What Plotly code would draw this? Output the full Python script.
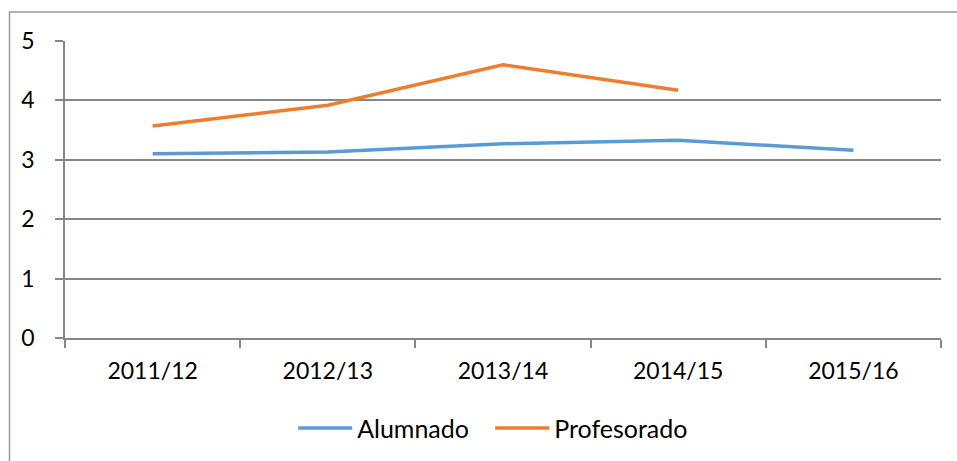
import plotly.graph_objects as go

categories = ["2011/12", "2012/13", "2013/14", "2014/15", "2015/16"]
alumnado = [3.10, 3.13, 3.27, 3.33, 3.16]
profesorado = [3.57, 3.92, 4.60, 4.17, None]
y_ticks = [0, 1, 2, 3, 4, 5]

FONT = "Lato"
GRID = "#878787"

fig = go.Figure()
fig.add_trace(go.Scatter(x=categories, y=alumnado, name="Alumnado", mode="lines",
                         line=dict(color="#5B9BD5", width=3.5)))
fig.add_trace(go.Scatter(x=categories, y=profesorado, name="Profesorado", mode="lines",
                         line=dict(color="#ED7D31", width=3.5)))

W, H = 957, 461
L, T = 65, 40.7
R = W - 940.7
B = H - 337.7
pw, ph = W - L - R, H - T - B

fig.update_layout(
    width=W, height=H,
    margin=dict(l=L, r=R, t=T, b=B, autoexpand=False),
    paper_bgcolor="white", plot_bgcolor="white",
    font=dict(family=FONT, size=23, color="black"),
    showlegend=True,
    legend=dict(orientation="h", x=(490 - L) / pw, xanchor="center",
                y=(337.7 - 428) / ph, yanchor="middle",
                font=dict(family=FONT, size=25), itemwidth=54,
                entrywidth=128, traceorder="normal"),
    xaxis=dict(type="category", range=[-0.5, 4.5], showgrid=False,
               showline=True, linecolor=GRID, linewidth=1.5,
               ticks="outside", ticklen=8, tickcolor=GRID, tickwidth=1.5,
               tickson="boundaries", ticklabelstandoff=12,
               tickfont=dict(family=FONT, size=23)),
    yaxis=dict(range=[0, 5], tickvals=y_ticks, showgrid=True, gridcolor=GRID,
               gridwidth=1.5, showline=True, linecolor=GRID, linewidth=1.5,
               ticks="outside", ticklen=8, tickcolor=GRID, tickwidth=1.5,
               zeroline=False, ticklabelstandoff=16,
               tickfont=dict(family=FONT, size=23)),
    shapes=[dict(type="rect", xref="paper", yref="paper",
                 x0=(9.5 - L) / pw, x1=(W + 40 - L) / pw,
                 y0=(337.7 - (H + 40)) / ph, y1=(337.7 - 11.7) / ph,
                 line=dict(color="#9a9a9a", width=1.5), fillcolor="rgba(0,0,0,0)",
                 layer="below")],
)

fig.write_html("out.html",
               config={"displayModeBar": False},
               post_script="document.body.style.margin='0';"
                           "document.body.style.overflow='hidden';"
                           "document.documentElement.style.overflow='hidden';")
